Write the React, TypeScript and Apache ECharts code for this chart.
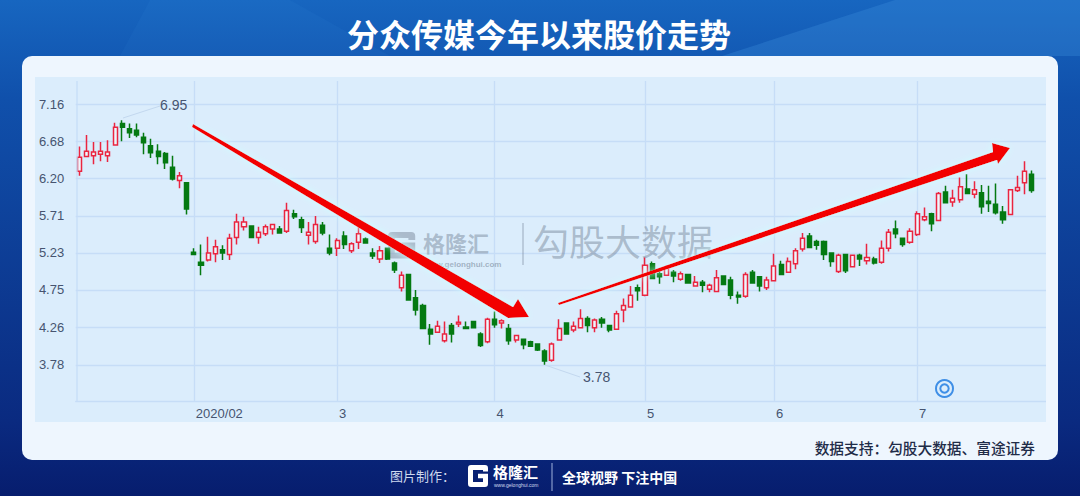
import React, { useEffect, useRef } from "react";
import * as echarts from "echarts";

const title = "分众传媒今年以来股价走势";
const source = "数据支持：勾股大数据、富途证券";
const yTicks = [3.78, 4.26, 4.75, 5.23, 5.71, 6.2, 6.68, 7.16];
const monthIndex = [16, 36, 58, 79, 97, 117];
const monthLabels = ["2020/02", "3", "4", "5", "6", "7"];
const blankSlots = 2;

const opens = [6.29,6.48,6.49,6.51,6.49,6.63,6.91,6.84,6.82,6.73,6.62,6.55,6.52,6.34,6.17,6.14,5.24,5.11,5.14,5.22,5.27,5.21,5.43,5.57,5.58,5.43,5.48,5.54,5.54,5.51,5.74,5.66,5.46,5.38,5.59,5.29,5.29,5.45,5.26,5.37,5.41,5.23,5.15,5.29,5.10,4.78,4.95,4.65,4.55,4.24,4.20,4.09,4.29,4.31,4.27,4.34,4.18,4.08,4.37,4.32,4.25,4.10,4.11,4.08,4.05,3.96,3.84,4.10,4.32,4.23,4.26,4.38,4.26,4.37,4.29,4.24,4.49,4.53,4.78,4.68,5.09,4.96,4.94,4.98,4.89,4.95,4.80,4.85,4.76,4.73,4.93,4.88,4.68,4.67,4.98,4.92,4.78,4.87,5.08,4.98,5.09,5.28,5.45,5.38,5.38,5.23,4.99,5.21,5.05,5.20,5.13,5.15,5.11,5.29,5.54,5.42,5.37,5.47,5.66,5.74,5.65,6.02,5.89,5.92,6.06,5.99,6.01,5.90,5.86,5.76,5.73,6.04,6.14,6.25];
const closes = [6.47,6.55,6.54,6.55,6.54,6.86,6.86,6.79,6.76,6.66,6.53,6.48,6.40,6.19,6.23,5.80,5.21,5.07,5.23,5.31,5.23,5.42,5.63,5.63,5.43,5.50,5.57,5.60,5.49,5.78,5.70,5.56,5.50,5.60,5.49,5.23,5.39,5.34,5.35,5.48,5.36,5.19,5.26,5.15,5.01,4.94,4.62,4.49,4.25,4.18,4.28,4.18,4.18,4.33,4.25,4.26,4.03,4.37,4.30,4.35,4.09,4.16,4.04,4.02,3.97,3.83,4.05,4.25,4.18,4.28,4.38,4.29,4.36,4.32,4.23,4.44,4.55,4.68,4.74,5.07,4.90,4.92,5.04,4.93,4.96,4.84,4.85,4.81,4.81,4.91,4.82,4.68,4.66,4.95,4.84,4.80,4.88,5.06,4.95,5.12,5.26,5.42,5.30,5.33,5.21,5.12,5.20,5.00,5.20,5.15,5.17,5.10,5.29,5.50,5.48,5.34,5.51,5.74,5.70,5.61,6.00,5.88,5.94,6.09,6.00,6.05,5.83,5.87,5.75,5.66,6.05,6.08,6.29,6.04];
const lows = [6.23,6.47,6.38,6.42,6.41,6.62,6.68,6.72,6.73,6.51,6.46,6.38,6.32,6.17,6.07,5.73,5.21,4.94,5.12,5.11,5.14,5.14,5.34,5.52,5.42,5.35,5.45,5.47,5.48,5.49,5.67,5.49,5.34,5.35,5.46,5.20,5.19,5.28,5.23,5.28,5.35,5.15,5.10,5.14,4.97,4.73,4.61,4.42,4.25,4.04,4.20,4.07,4.07,4.27,4.24,4.25,4.01,4.06,4.26,4.25,4.04,4.07,3.98,4.01,3.96,3.78,3.82,4.09,4.17,4.20,4.25,4.20,4.20,4.26,4.20,4.23,4.33,4.52,4.61,4.67,4.89,4.83,4.93,4.85,4.87,4.83,4.80,4.72,4.72,4.73,4.81,4.63,4.57,4.65,4.83,4.73,4.75,4.86,4.94,4.97,5.02,5.25,5.29,5.27,5.14,5.05,4.97,4.97,5.04,5.06,5.08,5.08,5.09,5.25,5.42,5.31,5.35,5.45,5.64,5.51,5.64,5.87,5.83,5.88,5.99,5.94,5.74,5.76,5.73,5.61,5.72,6.02,5.99,6.01];
const highs = [6.61,6.76,6.67,6.67,6.69,6.92,6.95,6.91,6.91,6.79,6.71,6.64,6.54,6.49,6.28,6.15,5.29,5.34,5.44,5.40,5.33,5.48,5.74,5.70,5.59,5.57,5.60,5.61,5.58,5.88,5.79,5.70,5.63,5.71,5.63,5.47,5.42,5.51,5.37,5.58,5.43,5.29,5.32,5.30,5.12,4.99,4.96,4.75,4.57,4.31,4.35,4.34,4.32,4.42,4.34,4.35,4.20,4.39,4.47,4.37,4.31,4.17,4.11,4.09,4.06,3.98,4.07,4.37,4.33,4.34,4.50,4.41,4.38,4.40,4.30,4.48,4.64,4.80,4.82,5.17,5.12,5.01,5.07,5.01,4.99,4.96,4.93,4.88,4.83,5.01,4.94,4.92,4.73,4.98,5.01,4.93,4.92,5.22,5.13,5.17,5.29,5.49,5.49,5.40,5.39,5.24,5.22,5.22,5.21,5.22,5.35,5.18,5.39,5.54,5.65,5.43,5.55,5.77,5.82,5.75,6.02,6.10,6.05,6.21,6.25,6.16,6.11,6.10,6.13,5.84,6.06,6.23,6.42,6.30];

const categories = [...opens.map((_, i) => `d${i}`), ...Array.from({ length: blankSlots }, (_, i) => `e${i}`)];
const candles = opens.map((o, i) => [o, closes[i], lows[i], highs[i]]);

const gLogo =
  "M6 0 H34 A6 6 0 0 1 40 6 V12 H30 V9 H10 V31 H30 V24 H20 V16 H40 V34 A6 6 0 0 1 34 40 H6 A6 6 0 0 1 0 34 V6 A6 6 0 0 1 6 0 Z";
echarts.graphic.registerShape("gLogo", echarts.graphic.extendPath(gLogo, {}) as any);

const CJK = '"Noto Sans CJK SC", sans-serif';
const LATIN = '"Liberation Sans", sans-serif';
const GRID_LINE = "#c6ddf7";
const LABEL = "#465470";

export default function App() {
  const ref = useRef<HTMLDivElement>(null);
  useEffect(() => {
    document.body.style.margin = "0";
    const chart = echarts.init(ref.current!, null, { renderer: "svg" });
    const back = [
      {
        type: "rect", z: -10, silent: true,
        shape: { x: 0, y: 0, width: 1080, height: 496 },
        style: {
          fill: new echarts.graphic.LinearGradient(0, 0, 0, 1, [
            { offset: 0, color: "#1766c0" },
            { offset: 0.2, color: "#1050ab" },
            { offset: 0.85, color: "#0a2a80" },
            { offset: 1, color: "#071d6e" },
          ]),
        },
      },
      { type: "polygon", z: -9, silent: true, shape: { points: [[895, 0], [1080, 0], [1080, 56], [722, 56]] }, style: { fill: "rgba(70,150,225,0.28)" } },
      { type: "polygon", z: -9, silent: true, shape: { points: [[150, 0], [290, 0], [390, 56], [120, 56]] }, style: { fill: "rgba(70,150,225,0.08)" } },
      { type: "rect", z: -8, silent: true, shape: { x: 22, y: 56, width: 1036, height: 404, r: 10 }, style: { fill: "#eef6fe" } },
      { type: "rect", z: -7, silent: true, shape: { x: 35, y: 77, width: 1011, height: 345 }, style: { fill: "#dbedfc" } },
    ];
    const arrowGlow = { shadowBlur: 7, shadowColor: "rgba(205,255,255,0.95)" };
    const front = [
      { type: "rect", z: 5, silent: true, shape: { x: 1046, y: 77, width: 6, height: 345 }, style: { fill: "#eef6fe" } },
      { type: "line", z: 5, silent: true, shape: { x1: 77, y1: 81, x2: 77, y2: 401 }, style: { stroke: GRID_LINE, lineWidth: 1.3 } },
    ];
    const mark = [
      { type: "gLogo", z: 2, silent: true, x: 388, y: 232, scaleX: 0.68, scaleY: 0.66, style: { fill: "rgba(110,125,145,0.45)" } },
      { type: "text", z: 2, silent: true, x: 423, y: 231, style: { text: "格隆汇", font: `bold 22px ${CJK}`, fill: "rgba(110,125,145,0.45)" } },
      { type: "text", z: 2, silent: true, x: 424, y: 260, style: { text: "www.gelonghui.com", font: `bold 8px ${LATIN}`, fill: "rgba(110,125,145,0.55)" } },
      { type: "line", z: 2, silent: true, shape: { x1: 523, y1: 223, x2: 523, y2: 265 }, style: { stroke: "rgba(110,125,145,0.4)", lineWidth: 1.5 } },
      { type: "text", z: 2, silent: true, x: 533, y: 222, style: { text: "勾股大数据", font: `36px ${CJK}`, fill: "rgba(110,125,145,0.45)" } },
    ];
    const notes = [
      { type: "line", z: 6, silent: true, shape: { x1: 123, y1: 118, x2: 160, y2: 106 }, style: { stroke: "#c3d8ef", lineWidth: 1 } },
      { type: "text", z: 6, silent: true, x: 160, y: 98, style: { text: "6.95", font: `14px ${LATIN}`, fill: LABEL } },
      { type: "line", z: 6, silent: true, shape: { x1: 545, y1: 365, x2: 580, y2: 377 }, style: { stroke: "#c3d8ef", lineWidth: 1 } },
      { type: "text", z: 6, silent: true, x: 583, y: 370, style: { text: "3.78", font: `14px ${LATIN}`, fill: LABEL } },
      { type: "circle", z: 6, silent: true, shape: { cx: 944.5, cy: 388.5, r: 8.5 }, style: { fill: "none", stroke: "#3f8fe6", lineWidth: 2 } },
      { type: "circle", z: 6, silent: true, shape: { cx: 944.5, cy: 388.5, r: 4.2 }, style: { fill: "none", stroke: "#3f8fe6", lineWidth: 2 } },
    ];
    const arrows = [
      {
        type: "polygon", z: 7, silent: true,
        shape: { points: [[193, 124], [513, 307], [518, 299], [529, 317], [509, 318], [508, 318], [192, 127]] },
        style: { fill: "#f20000", ...arrowGlow },
      },
      {
        type: "polygon", z: 7, silent: true,
        shape: { points: [[558, 303], [993, 152], [992, 143], [1010, 148], [998, 164], [997, 160], [559, 305]] },
        style: { fill: "#f20000", ...arrowGlow },
      },
    ];
    const texts = [
      { type: "text", z: 8, silent: true, x: 539, y: 33, style: { text: title, font: `bold 32px ${CJK}`, fill: "#ffffff", align: "center", verticalAlign: "middle" } },
      { type: "text", z: 8, silent: true, x: 1035, y: 447, style: { text: source, font: `500 14.7px ${CJK}`, fill: "#1f2c48", align: "right", verticalAlign: "middle" } },
      { type: "text", z: 8, silent: true, x: 390, y: 475, style: { text: "图片制作：", font: `13px ${CJK}`, fill: "#cfd9ee", verticalAlign: "middle" } },
      { type: "gLogo", z: 8, silent: true, x: 468, y: 465, scaleX: 0.5, scaleY: 0.55, style: { fill: "#ffffff" } },
      { type: "text", z: 8, silent: true, x: 493, y: 471, style: { text: "格隆汇", font: `bold 15px ${CJK}`, fill: "#ffffff", verticalAlign: "middle" } },
      { type: "text", z: 8, silent: true, x: 494, y: 485, style: { text: "www.gelonghui.com", font: `5px ${LATIN}`, fill: "#cfd9ee", verticalAlign: "middle" } },
      { type: "line", z: 8, silent: true, shape: { x1: 552, y1: 463, x2: 552, y2: 491 }, style: { stroke: "#9fb2dc", lineWidth: 1 } },
      { type: "text", z: 8, silent: true, x: 562, y: 477, style: { text: "全球视野 下注中国", font: `bold 14px ${CJK}`, fill: "#ffffff", verticalAlign: "middle" } },
    ];
    chart.setOption({
      animation: false,
      backgroundColor: "transparent",
      grid: { left: 75.7, top: 81, width: 7.161 * categories.length, height: 320, containLabel: false },
      xAxis: {
        type: "category",
        data: categories,
        boundaryGap: true,
        axisLine: { show: true, lineStyle: { color: GRID_LINE, width: 1.3 } },
        axisTick: { show: false, alignWithLabel: true, interval: (i: number) => monthIndex.includes(i) },
        splitLine: { show: true, alignWithLabel: true, interval: (i: number) => monthIndex.includes(i), lineStyle: { color: GRID_LINE, width: 1.3 } },
        axisLabel: {
          interval: (i: number) => monthIndex.includes(i),
          formatter: (_: string, i: number) => monthLabels[monthIndex.indexOf(i)] ?? "",
          align: "left",
          margin: 6,
          padding: [0, 0, 0, 2],
          color: LABEL,
          fontSize: 13,
          fontFamily: LATIN,
        },
      },
      yAxis: {
        type: "value",
        min: 3.31,
        max: 7.46,
        scale: true,
        axisLine: { show: false },
        axisTick: { show: false, customValues: yTicks },
        splitLine: { show: true, lineStyle: { color: GRID_LINE, width: 1.3 } },
        axisLabel: {
          customValues: yTicks,
          formatter: (v: number) => v.toFixed(2),
          margin: 11.5,
          color: LABEL,
          fontSize: 13,
          fontFamily: LATIN,
        },
      },
      series: [
        {
          type: "candlestick",
          data: candles,
          barWidth: 4.6,
          itemStyle: {
            color: "#eef6fd",
            color0: "#047a12",
            borderColor: "#ea2540",
            borderColor0: "#047a12",
            borderWidth: 1.5,
          },
        },
      ],
      graphic: { elements: [...back, ...mark, ...front, ...notes, ...arrows, ...texts] },
    });
    return () => chart.dispose();
  }, []);
  return <div ref={ref} style={{ width: 1080, height: 496 }} />;
}
